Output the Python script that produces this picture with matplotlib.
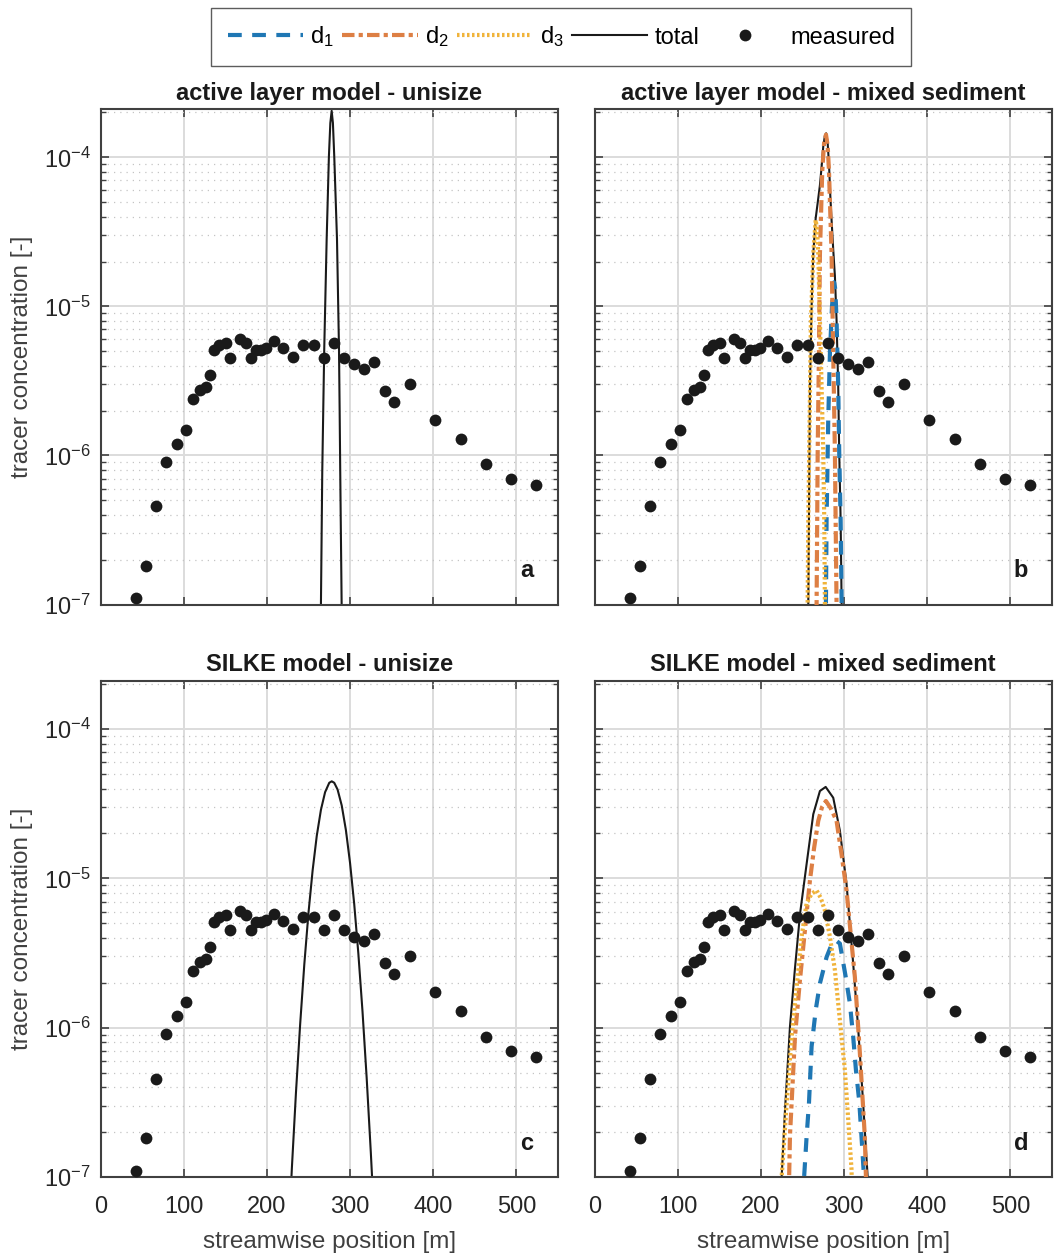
import matplotlib
matplotlib.use('Agg')
import matplotlib.pyplot as plt
import numpy as np
from matplotlib.ticker import LogLocator, NullLocator, FixedLocator

plt.rcParams['font.family'] = ['Liberation Sans', 'DejaVu Sans']
plt.rcParams['mathtext.fontset'] = 'custom'
plt.rcParams['mathtext.rm'] = 'Liberation Sans'
plt.rcParams['mathtext.it'] = 'Liberation Sans:italic'
plt.rcParams['mathtext.bf'] = 'Liberation Sans:bold'

# measured tracer concentration
x_meas = [42.7, 54.7, 66.7, 79.1, 91.9, 103.1, 111.2, 120.0, 126.8, 131.6, 136.8, 142.4, 150.8,
          156.0, 168.0, 174.5, 180.5, 186.5, 192.9, 198.6, 208.2, 219.7, 231.7, 243.8, 256.6,
          268.3, 280.6, 292.7, 304.3, 317.1, 329.1, 341.6, 352.4, 372.0, 402.0, 433.0, 463.0,
          493.8, 523.0]
c_meas = [1.10e-7, 1.82e-7, 4.56e-7, 9.08e-7, 1.20e-6, 1.49e-6, 2.41e-6, 2.75e-6, 2.90e-6,
          3.48e-6, 5.09e-6, 5.50e-6, 5.70e-6, 4.50e-6, 6.01e-6, 5.65e-6, 4.48e-6, 5.09e-6,
          5.09e-6, 5.27e-6, 5.82e-6, 5.22e-6, 4.57e-6, 5.50e-6, 5.52e-6, 4.53e-6, 5.68e-6,
          4.48e-6, 4.08e-6, 3.82e-6, 4.22e-6, 2.72e-6, 2.30e-6, 3.02e-6, 1.73e-6, 1.29e-6,
          8.71e-7, 6.95e-7, 6.34e-7]

# (a) active layer model - unisize
a_x = [264.5, 265.0, 266.6, 268.0, 269.0, 271.9, 274.6, 276.3, 277.9, 279.4, 281.0, 284.3,
       286.7, 287.5, 288.2, 289.9, 290.5]
a_tot = [7e-8, 1.0e-7, 7.8e-7, 2.4e-6, 5.25e-6, 2.84e-5, 1.02e-4, 1.7e-4, 2.05e-4, 1.7e-4,
         1.02e-4, 2.84e-5, 5.25e-6, 2.0e-6, 7.8e-7, 1.0e-7, 7e-8]

# (b) active layer model - mixed sediment
b_x_tot = [256.5, 257.0, 257.8, 259.0, 261.0, 263.0, 265.9, 268.0, 271.0, 273.0, 275.0, 277.0,
           278.5, 280.3, 282.0, 283.5, 285.0, 287.0, 289.0, 291.0, 293.0, 294.2, 295.9, 297.1,
           297.6]
b_tot = [7e-8, 1.0e-7, 3.7e-7, 2.9e-6, 1.0e-5, 2.26e-5, 3.9e-5, 4.8e-5, 6.5e-5, 8.6e-5,
         1.18e-4, 1.4e-4, 1.45e-4, 1.25e-4, 8.8e-5, 5.5e-5, 3.8e-5, 2.4e-5, 1.6e-5, 8.1e-6,
         2.9e-6, 1.05e-6, 3.7e-7, 1.0e-7, 7e-8]
b_x_d1 = [277.8, 278.2, 279.0, 281.0, 283.0, 285.5, 288.0, 289.5, 291.0, 293.0, 294.2, 295.9,
          297.1, 297.6]
b_d1 = [7e-8, 1.0e-7, 3.7e-7, 1.74e-6, 4.8e-6, 1.0e-5, 1.45e-5, 1.3e-5, 8.1e-6, 2.9e-6,
        1.05e-6, 3.7e-7, 1.0e-7, 7e-8]
b_x_d2 = [266.5, 267.0, 268.3, 269.8, 271.0, 273.8, 276.0, 278.3, 280.3, 281.9, 285.0, 287.0,
          289.0, 291.0, 291.5]
b_d2 = [6e-8, 1.0e-7, 1.05e-6, 4.8e-6, 2.24e-5, 8.1e-5, 1.25e-4, 1.42e-4, 1.2e-4, 8.1e-5,
        2.24e-5, 4.8e-6, 1.05e-6, 1.0e-7, 6e-8]
b_x_d3 = [255.8, 256.2, 257.0, 258.6, 260.2, 263.0, 265.9, 267.5, 269.0, 271.0, 273.0, 275.0,
          276.2, 277.0, 277.4]
b_d3 = [7e-8, 1.0e-7, 3.7e-7, 1.74e-6, 8.1e-6, 2.26e-5, 3.8e-5, 3.3e-5, 2.26e-5, 8.1e-6,
        2.9e-6, 1.05e-6, 3.7e-7, 1.0e-7, 6e-8]

# (c) SILKE model - unisize
c_x = [228, 230, 235, 240, 245, 250, 255, 260, 265, 270, 275, 278, 281, 285, 290, 295, 300,
       305, 310, 315, 320, 325, 328]
c_tot = [6.5e-8, 1.13e-7, 3.69e-7, 1.05e-6, 2.65e-6, 5.85e-6, 1.13e-5, 1.93e-5, 2.88e-5,
         3.78e-5, 4.37e-5, 4.47e-5, 4.37e-5, 3.94e-5, 3.08e-5, 2.11e-5, 1.27e-5, 6.75e-6,
         3.13e-6, 1.28e-6, 4.6e-7, 1.45e-7, 6.8e-8]

# (d) SILKE model - mixed sediment
d_x_tot = [224.5, 225.0, 229.0, 235.0, 241.0, 247.1, 255.0, 263.0, 271.0, 277.9, 287.0, 295.0,
           303.0, 311.0, 317.1, 323.0, 328.4, 329.5]
d_tot = [7e-8, 1.0e-7, 2.8e-7, 1.02e-6, 2.5e-6, 5.8e-6, 1.25e-5, 2.69e-5, 3.85e-5, 4.1e-5,
         3.47e-5, 2.09e-5, 9.2e-6, 2.69e-6, 9.7e-7, 3.1e-7, 1.0e-7, 7e-8]
d_x_d1 = [251.5, 252.0, 255.0, 257.8, 261.0, 266.0, 271.0, 279.0, 285.0, 290.0, 295.0, 302.0,
          307.0, 311.0, 314.3, 318.3, 321.0, 324.0, 324.5]
d_d1 = [7e-8, 1.0e-7, 1.87e-7, 3.1e-7, 7.5e-7, 1.32e-6, 1.98e-6, 2.97e-6, 3.6e-6, 3.85e-6,
        3.66e-6, 2.19e-6, 1.46e-6, 8.7e-7, 5.2e-7, 3.2e-7, 1.86e-7, 1.0e-7, 7e-8]
d_x_d2 = [233.5, 234.0, 235.0, 241.0, 247.0, 253.0, 259.0, 264.0, 269.0, 273.5, 278.2, 284.0,
          291.0, 297.0, 303.0, 313.0, 319.0, 325.0, 326.3, 327.0]
d_d2 = [7e-8, 1.0e-7, 1.9e-7, 8.7e-7, 2.09e-6, 4.5e-6, 9.7e-6, 1.6e-5, 2.43e-5, 3.0e-5,
        3.3e-5, 2.95e-5, 2.43e-5, 1.45e-5, 8.3e-6, 2.19e-6, 6.8e-7, 1.86e-7, 1.0e-7, 7e-8]
d_x_d3 = [224.5, 225.0, 231.0, 237.0, 243.0, 249.0, 255.0, 261.0, 267.0, 272.0, 277.0, 283.0,
          289.0, 295.0, 301.0, 305.0, 309.0, 309.5]
d_d3 = [7e-8, 1.0e-7, 3.1e-7, 8.7e-7, 1.87e-6, 4.07e-6, 6.8e-6, 7.9e-6, 8.3e-6, 7.4e-6,
        6.1e-6, 4.07e-6, 2.43e-6, 1.12e-6, 5.2e-7, 2.43e-7, 1.12e-7, 8e-8]

titles = ['active layer model - unisize', 'active layer model - mixed sediment',
          'SILKE model - unisize', 'SILKE model - mixed sediment']
letters = ['a', 'b', 'c', 'd']

c_d1 = '#1f77b4'
c_d2 = '#dd7f44'
c_d3 = '#f0b33a'
c_tot_col = '#1a1a1a'

W, H = 1057, 1253
fig = plt.figure(figsize=(W / 100, H / 100), dpi=100)

def box(x0, y0, x1, y1):
    return [x0 / W, 1 - y1 / H, (x1 - x0) / W, (y1 - y0) / H]

axs = [fig.add_axes(box(100.5, 109.3, 558.0, 604.5)),
       fig.add_axes(box(594.5, 109.3, 1052.0, 604.5)),
       fig.add_axes(box(100.5, 681.0, 558.0, 1177.0)),
       fig.add_axes(box(594.5, 681.0, 1052.0, 1177.0))]

handles = {}
for i, ax in enumerate(axs):
    if i == 0:
        ax.plot(a_x, a_tot, color=c_tot_col, lw=1.5)
    elif i == 2:
        ax.plot(c_x, c_tot, color=c_tot_col, lw=1.5)
    else:
        if i == 1:
            xs = [b_x_d1, b_x_d2, b_x_d3, b_x_tot]
            ys = [b_d1, b_d2, b_d3, b_tot]
        else:
            xs = [d_x_d1, d_x_d2, d_x_d3, d_x_tot]
            ys = [d_d1, d_d2, d_d3, d_tot]
        ht, = ax.plot(xs[3], ys[3], color=c_tot_col, lw=1.5, zorder=2)
        h1, = ax.plot(xs[0], ys[0], color=c_d1, lw=3, ls=(0, (3.3, 2.5)), zorder=3)
        h2, = ax.plot(xs[1], ys[1], color=c_d2, lw=3, ls=(0, (3.0, 1.0, 1.0, 1.0)), zorder=3)
        h3, = ax.plot(xs[2], ys[2], color=c_d3, lw=3, ls=(0, (0.6, 0.6)), zorder=3)
        handles = {'d1': h1, 'd2': h2, 'd3': h3, 'tot': ht}
    hm, = ax.plot(x_meas, c_meas, 'o', color='#1a1a1a', ms=8.5, mec='none', zorder=4)
    handles['meas'] = hm

    ax.set_yscale('log')
    ax.set_xlim(0, 550)
    ax.set_ylim(1e-7, 2.1e-4)
    ax.xaxis.set_major_locator(FixedLocator([0, 100, 200, 300, 400, 500]))
    ax.xaxis.set_minor_locator(NullLocator())
    ax.yaxis.set_major_locator(LogLocator(base=10, numticks=10))
    ax.yaxis.set_minor_locator(LogLocator(base=10, subs=np.arange(2, 10), numticks=20))
    ax.grid(which='major', color='#dcdcdc', lw=1.4)
    ax.grid(which='minor', axis='y', color='#c4c4c4', lw=0.9, ls=(0, (1, 4)))
    ax.set_axisbelow(True)
    ax.tick_params(which='both', direction='in', top=True, right=True, color='#404040',
                   labelsize=17, labelcolor='#262626')
    ax.tick_params(which='major', length=6, width=1.2)
    ax.tick_params(which='minor', length=3.5, width=1.0)
    ax.tick_params(axis='x', pad=14)
    ax.tick_params(axis='y', pad=7)
    for s in ax.spines.values():
        s.set_color('#404040')
        s.set_linewidth(1.5)
    ax.set_title(titles[i], fontsize=17, fontweight='bold', color='#1a1a1a', pad=7)
    ax.text(0.932, 0.068, letters[i], transform=ax.transAxes, fontsize=17,
            fontweight='bold', color='#1a1a1a', ha='center', va='center')
    if i in (0, 2):
        ax.set_ylabel('tracer concentration [-]', fontsize=17.5, color='#404040', labelpad=8)
    else:
        ax.tick_params(labelleft=False)
    if i in (2, 3):
        ax.set_xlabel('streamwise position [m]', fontsize=17.5, color='#404040', labelpad=9)
    else:
        ax.tick_params(labelbottom=False)

leg = fig.legend([handles['d1'], handles['d2'], handles['d3'], handles['tot'], handles['meas']],
                 ['d$_1$', 'd$_2$', 'd$_3$', 'total', 'measured'],
                 loc='upper center', bbox_to_anchor=(0.531, 0.9936), ncol=5, frameon=True,
                 fancybox=False, edgecolor='#333333', fontsize=17, handlelength=3.2,
                 handletextpad=0.3, columnspacing=0.35, borderpad=0.7, borderaxespad=0)
leg.get_frame().set_linewidth(1.0)

fig.savefig('out.png', dpi=100)
